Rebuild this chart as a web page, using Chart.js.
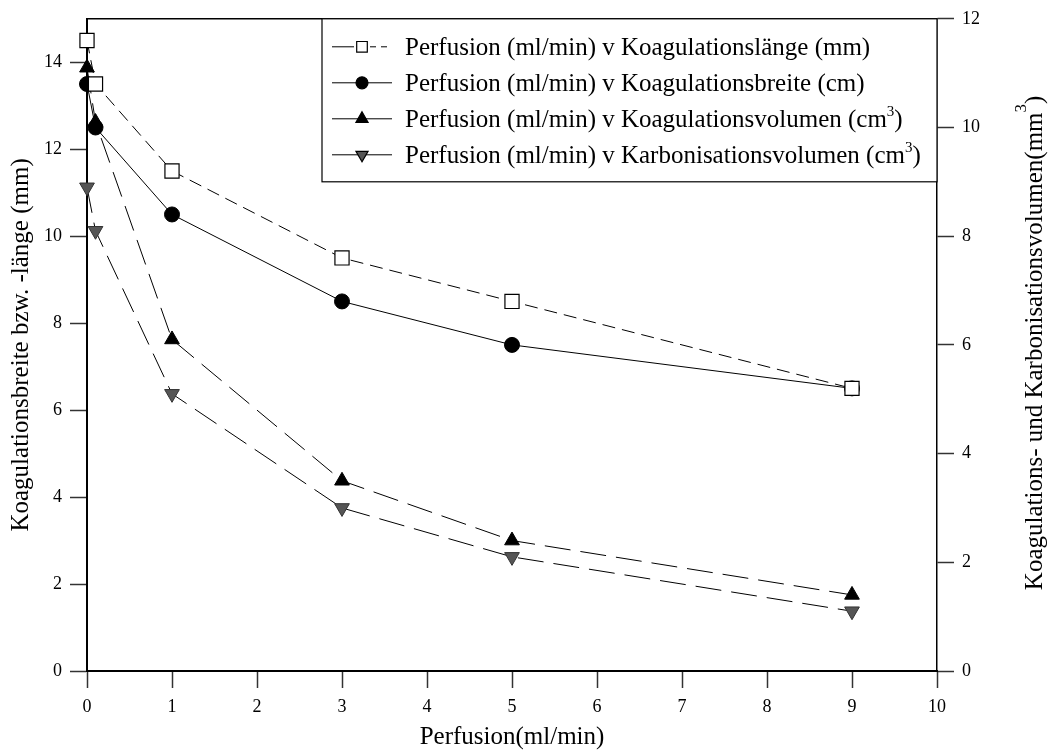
<!DOCTYPE html>
<html>
<head>
<meta charset="utf-8">
<script src="https://cdn.jsdelivr.net/npm/chart.js@4/dist/chart.umd.min.js"></script>
<style>
  body { margin: 0; background: #fff; }
  #wrap { width: 1049px; height: 751px; }
</style>
</head>
<body>
<div id="wrap"><canvas id="chart"></canvas></div>
<script>
// values
var perfusion = [0, 0.1, 1, 3, 5, 9];
var koagLaenge = [14.5, 13.5, 11.5, 9.5, 8.5, 6.5];   // left axis
var koagBreite = [13.5, 12.5, 10.5, 8.5, 7.5, 6.5];   // left axis
var koagVolumen = [11.1, 10.1, 6.1, 3.5, 2.4, 1.4];   // right axis
var karbVolumen = [8.9, 8.1, 5.1, 3.0, 2.1, 1.1];     // right axis

var seriesNames = [
  "Perfusion (ml/min) v Koagulationslänge (mm)",
  "Perfusion (ml/min) v Koagulationsbreite (cm)",
  "Perfusion (ml/min) v Koagulationsvolumen (cm³)",
  "Perfusion (ml/min) v Karbonisationsvolumen (cm³)",
];
var xTitle = "Perfusion(ml/min)";
var yTitle = "Koagulationsbreite bzw. -länge (mm)";
var y2Title = "Koagulations- und Karbonisationsvolumen(mm³)";

var SERIF = "'Liberation Serif', 'Times New Roman', serif";

function pts(ys) {
  return perfusion.map(function (x, i) { return { x: x, y: ys[i] }; });
}

// draws text where "³" is set as a raised small 3 (left aligned at x, alphabetic baseline)
function supText(ctx, text, x, y, size, supSize, rise) {
  var parts = text.split("³");
  ctx.textAlign = "left";
  ctx.textBaseline = "alphabetic";
  for (var i = 0; i < parts.length; i++) {
    ctx.font = size + "px " + SERIF;
    ctx.fillText(parts[i], x, y);
    x += ctx.measureText(parts[i]).width;
    if (i < parts.length - 1) {
      ctx.font = supSize + "px " + SERIF;
      ctx.fillText("3", x, y - rise);
      x += ctx.measureText("3").width;
    }
  }
}
function supWidth(ctx, text, size, supSize) {
  var parts = text.split("³"), w = 0;
  ctx.font = size + "px " + SERIF;
  parts.forEach(function (p) { w += ctx.measureText(p).width; });
  ctx.font = supSize + "px " + SERIF;
  w += (parts.length - 1) * ctx.measureText("3").width;
  return w;
}

// top frame line + legend box + right title
var decorations = {
  id: "decorations",
  afterDatasetsDraw: function (chart) {
    var ctx = chart.ctx, a = chart.chartArea;
    ctx.save();
    ctx.strokeStyle = "#000";
    ctx.lineWidth = 1.5;
    ctx.beginPath();
    ctx.moveTo(a.left, a.top);
    ctx.lineTo(a.right, a.top);
    ctx.stroke();

    // legend
    var bx = a.right - 615, by = a.top, bw = 615, bh = 163;
    ctx.fillStyle = "#fff";
    ctx.fillRect(bx, by, bw, bh);
    ctx.lineWidth = 1.2;
    ctx.strokeRect(bx, by, bw, bh);
    chart.data.datasets.forEach(function (ds, i) {
      var cy = by + 28 + i * 36;
      var x0 = bx + 10, x1 = bx + 70, mx = bx + 40;
      ctx.strokeStyle = "#000";
      ctx.lineWidth = 1;
      if (i === 0) {
        ctx.beginPath(); ctx.moveTo(x0, cy); ctx.lineTo(mx - 8, cy); ctx.stroke();
        ctx.setLineDash([6, 5]);
        ctx.beginPath(); ctx.moveTo(mx + 8, cy); ctx.lineTo(x1, cy); ctx.stroke();
        ctx.setLineDash([]);
      } else {
        ctx.beginPath(); ctx.moveTo(x0, cy); ctx.lineTo(x1, cy); ctx.stroke();
      }
      ctx.fillStyle = ds.backgroundColor;
      ctx.strokeStyle = ds.borderColor;
      ctx.lineWidth = 1.2;
      Chart.helpers.drawPoint(ctx, {
        pointStyle: ds.pointStyle,
        radius: ds.legendRadius,
        rotation: ds.rotation || 0,
        borderWidth: 1.2
      }, mx, cy);
      ctx.fillStyle = "#000";
      supText(ctx, ds.label, bx + 83, cy + 8, 25, 15, 11);
    });

    // right axis title, reading bottom to top
    var mid = (a.top + a.bottom) / 2 - 2;
    ctx.translate(1042, mid);
    ctx.rotate(-Math.PI / 2);
    ctx.fillStyle = "#000";
    var w = supWidth(ctx, y2Title, 25, 17);
    supText(ctx, y2Title, -w / 2, 0, 25, 17, 16);
    ctx.restore();
  }
};

var tickFont = { family: SERIF, size: 18 };

new Chart(document.getElementById("chart"), {
  type: "line",
  data: {
    datasets: [
      {
        label: seriesNames[0],
        data: pts(koagLaenge),
        yAxisID: "y",
        borderColor: "#000",
        borderWidth: 1,
        borderDash: [13, 7],
        pointStyle: "rect",
        pointRadius: 10,
        legendRadius: 7.5,
        pointBackgroundColor: "#fff",
        backgroundColor: "#fff",
        pointBorderColor: "#000",
        pointBorderWidth: 1.2,
      },
      {
        label: seriesNames[1],
        data: pts(koagBreite),
        yAxisID: "y",
        borderColor: "#000",
        borderWidth: 1,
        pointStyle: "circle",
        pointRadius: 7.5,
        legendRadius: 6,
        backgroundColor: "#000",
        pointBackgroundColor: "#000",
        pointBorderColor: "#000",
      },
      {
        label: seriesNames[2],
        data: pts(koagVolumen),
        yAxisID: "y2",
        borderColor: "#000",
        borderWidth: 1,
        borderDash: [26, 10],
        pointStyle: "triangle",
        pointRadius: 8.5,
        legendRadius: 7,
        backgroundColor: "#000",
        pointBackgroundColor: "#000",
        pointBorderColor: "#000",
      },
      {
        label: seriesNames[3],
        data: pts(karbVolumen),
        yAxisID: "y2",
        borderColor: "#000",
        borderWidth: 1,
        borderDash: [26, 10],
        pointStyle: "triangle",
        rotation: 180,
        pointRotation: 180,
        pointRadius: 8.5,
        legendRadius: 7,
        backgroundColor: "#555",
        pointBackgroundColor: "#555",
        pointBorderColor: "#333",
      },
    ],
  },
  options: {
    responsive: true,
    maintainAspectRatio: false,
    animation: false,
    clip: false,
    layout: { padding: { top: 16, left: 0, right: 0, bottom: 0 } },
    elements: { line: { tension: 0, fill: false } },
    plugins: { legend: { display: false }, tooltip: { enabled: false } },
    scales: {
      x: {
        type: "linear",
        min: 0,
        max: 10,
        ticks: { stepSize: 1, font: tickFont, color: "#000", padding: 8 },
        grid: { drawOnChartArea: false, tickLength: 17, tickColor: "#333", tickWidth: 1.5 },
        border: { color: "#000", width: 2 },
        title: { display: true, text: xTitle, color: "#000", font: { family: SERIF, size: 25, lineHeight: 1 }, padding: { top: 0, bottom: 1 } },
        afterFit: function (s) { s.height = 80; },
      },
      y: {
        position: "left",
        min: 0,
        max: 15,
        ticks: { stepSize: 2, includeBounds: false, font: tickFont, color: "#000", padding: 8 },
        grid: { drawOnChartArea: false, tickLength: 17, tickColor: "#333", tickWidth: 1.5 },
        border: { color: "#000", width: 2 },
        title: { display: true, text: yTitle, color: "#000", font: { family: SERIF, size: 25, lineHeight: 1.2 }, padding: { top: 6, bottom: 0 } },
        afterFit: function (s) { s.width = 87; },
      },
      y2: {
        position: "right",
        min: 0,
        max: 12,
        ticks: { stepSize: 2, font: tickFont, color: "#000", padding: 8 },
        grid: { drawOnChartArea: false, tickLength: 17, tickColor: "#333", tickWidth: 1.5 },
        border: { color: "#000", width: 1.5 },
        afterFit: function (s) { s.width = 112; },
      },
    },
  },
  plugins: [decorations],
});
</script>
</body>
</html>
